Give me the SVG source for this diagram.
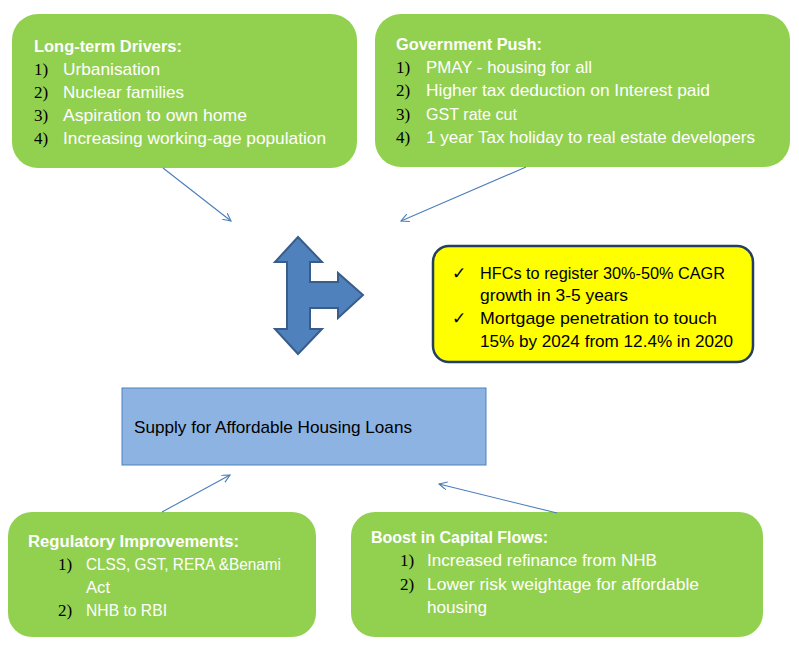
<svg xmlns="http://www.w3.org/2000/svg" width="799" height="653" viewBox="0 0 799 653">
<defs>
<style>
.g{fill:#92D050;stroke:none}
.t{font-family:"Liberation Sans",Arial,sans-serif;font-size:17px;fill:#FFFFFF}
.h{font-family:"Liberation Sans",Arial,sans-serif;font-size:16px;font-weight:bold;fill:#FFFFFF}
.n{font-family:"Liberation Serif","Times New Roman",serif;font-size:17px;fill:#000000}
.y{font-family:"Liberation Sans",Arial,sans-serif;font-size:17px;fill:#000000}
.c{fill:none;stroke:#4A7EBB;stroke-width:1.1}
</style>
<marker id="ah" markerWidth="10" markerHeight="10" refX="8" refY="4" orient="auto" markerUnits="userSpaceOnUse">
<path d="M0,0 L8,4 L0,8" fill="none" stroke="#4A7EBB" stroke-width="1.1"/>
</marker>
</defs>
<rect width="799" height="653" fill="#FFFFFF"/>

<g id="long-term-drivers">
<rect class="g" x="12" y="14" width="345" height="154" rx="26"/>
<text class="h" x="34" y="52" textLength="148" lengthAdjust="spacingAndGlyphs">Long-term Drivers:</text>
<text class="n" x="34" y="75">1)</text><text class="t" x="63" y="75" textLength="97" lengthAdjust="spacingAndGlyphs">Urbanisation</text>
<text class="n" x="34" y="98">2)</text><text class="t" x="63" y="98" textLength="121" lengthAdjust="spacingAndGlyphs">Nuclear families</text>
<text class="n" x="34" y="121">3)</text><text class="t" x="63" y="121" textLength="184" lengthAdjust="spacingAndGlyphs">Aspiration to own home</text>
<text class="n" x="34" y="144">4)</text><text class="t" x="63" y="144" textLength="263" lengthAdjust="spacingAndGlyphs">Increasing working-age population</text>
</g>

<g id="government-push">
<rect class="g" x="375" y="14" width="415" height="153" rx="26"/>
<text class="h" x="396" y="50" textLength="146" lengthAdjust="spacingAndGlyphs">Government Push:</text>
<text class="n" x="396" y="73">1)</text><text class="t" x="426" y="73" textLength="166" lengthAdjust="spacingAndGlyphs">PMAY - housing for all</text>
<text class="n" x="396" y="96">2)</text><text class="t" x="426" y="96" textLength="284" lengthAdjust="spacingAndGlyphs">Higher tax deduction on Interest paid</text>
<text class="n" x="396" y="120">3)</text><text class="t" x="426" y="120" textLength="91" lengthAdjust="spacingAndGlyphs">GST rate cut</text>
<text class="n" x="396" y="143">4)</text><text class="t" x="426" y="143" textLength="329" lengthAdjust="spacingAndGlyphs">1 year Tax holiday to real estate developers</text>
</g>

<g id="bent-arrow">
<path d="M298,237 L322,262 L310,262 L310,282 L338,282 L338,273 L363,295 L338,318 L338,308 L310,308 L310,329 L322,329 L298,354 L275,329 L287,329 L287,262 L275,262 Z" fill="#4F81BD" stroke="#385D8A" stroke-width="2" stroke-linejoin="miter"/>
</g>

<g id="outlook">
<rect x="433" y="246" width="320" height="116" rx="16" fill="#FFFF00" stroke="#243F60" stroke-width="2.5"/>
<text class="y" x="452" y="279">✓</text>
<text class="y" x="480" y="279" textLength="245" lengthAdjust="spacingAndGlyphs">HFCs to register 30%-50% CAGR</text>
<text class="y" x="480" y="301" textLength="148" lengthAdjust="spacingAndGlyphs">growth in 3-5 years</text>
<text class="y" x="452" y="324">✓</text>
<text class="y" x="480" y="324" textLength="237" lengthAdjust="spacingAndGlyphs">Mortgage penetration to touch</text>
<text class="y" x="480" y="347" textLength="253" lengthAdjust="spacingAndGlyphs">15% by 2024 from 12.4% in 2020</text>
</g>

<g id="supply">
<rect x="122" y="388" width="364" height="77" fill="#8DB3E2" stroke="#4F81BD" stroke-width="1"/>
<text class="y" x="134" y="433" textLength="278" lengthAdjust="spacingAndGlyphs">Supply for Affordable Housing Loans</text>
</g>

<g id="regulatory-improvements">
<rect class="g" x="8" y="512" width="308" height="125" rx="24"/>
<text class="h" x="28" y="547" textLength="211" lengthAdjust="spacingAndGlyphs">Regulatory Improvements:</text>
<text class="n" x="58" y="570">1)</text><text class="t" x="86" y="570" textLength="195" lengthAdjust="spacingAndGlyphs">CLSS, GST, RERA &amp;Benami</text>
<text class="t" x="86" y="593" textLength="24" lengthAdjust="spacingAndGlyphs">Act</text>
<text class="n" x="58" y="616">2)</text><text class="t" x="86" y="616" textLength="81" lengthAdjust="spacingAndGlyphs">NHB to RBI</text>
</g>

<g id="capital-flows">
<rect class="g" x="351" y="512" width="412" height="125" rx="24"/>
<text class="h" x="371" y="543" textLength="177" lengthAdjust="spacingAndGlyphs">Boost in Capital Flows:</text>
<text class="n" x="400" y="566">1)</text><text class="t" x="427" y="566" textLength="230" lengthAdjust="spacingAndGlyphs">Increased refinance from NHB</text>
<text class="n" x="400" y="590">2)</text><text class="t" x="427" y="590" textLength="272" lengthAdjust="spacingAndGlyphs">Lower risk weightage for affordable</text>
<text class="t" x="427" y="613" textLength="60" lengthAdjust="spacingAndGlyphs">housing</text>
</g>

<g id="connectors">
<line class="c" x1="163" y1="168" x2="231" y2="221" marker-end="url(#ah)"/>
<line class="c" x1="526" y1="167" x2="401" y2="221" marker-end="url(#ah)"/>
<line class="c" x1="162" y1="512" x2="230" y2="475" marker-end="url(#ah)"/>
<line class="c" x1="557" y1="513" x2="439" y2="484" marker-end="url(#ah)"/>
</g>
</svg>
